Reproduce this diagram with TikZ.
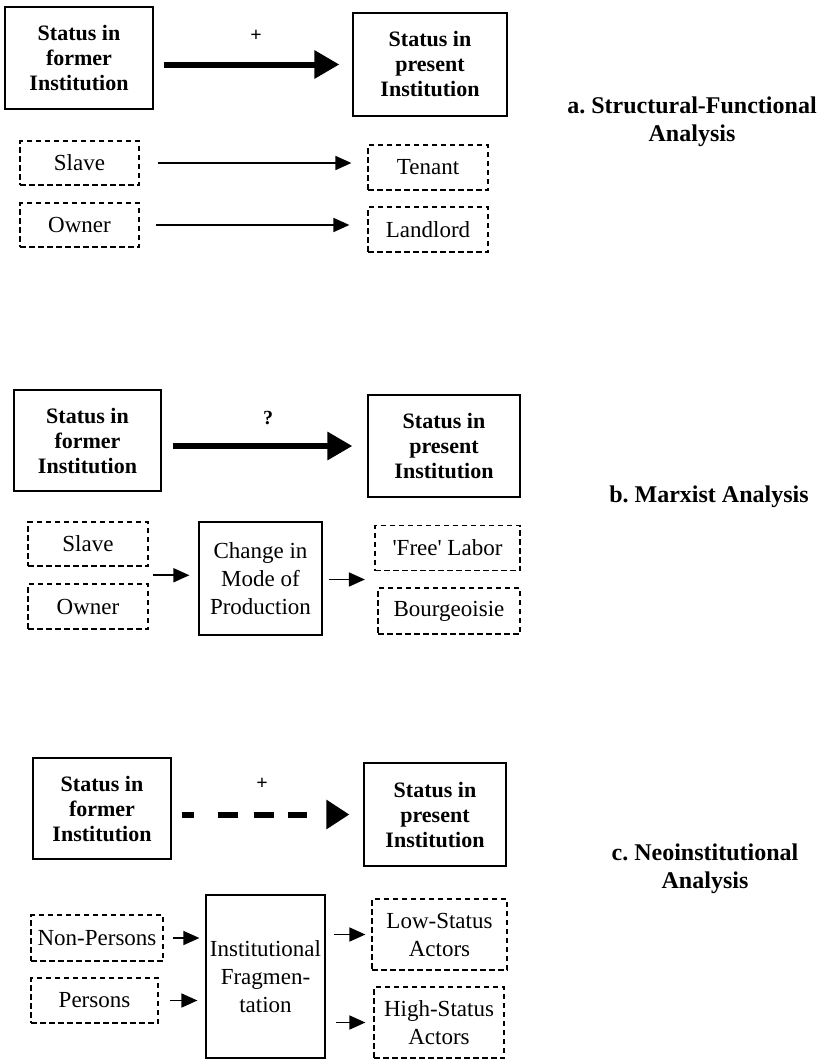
\documentclass[tikz,border=0pt]{standalone}
\usepackage{fontspec}
\setmainfont{Liberation Serif}
\usetikzlibrary{arrows.meta,calc}
\frenchspacing
\begin{document}
\begin{tikzpicture}[x=1pt,y=-1pt,
  solidbox/.style={draw, line width=1.2pt, inner sep=0pt, align=center},
  dashbox/.style={draw, line width=1.2pt, dash pattern=on 5.5pt off 3.5pt, inner sep=0pt, align=center},
  boldtxt/.style={font=\fontsize{22}{25}\selectfont\bfseries},
  regtxt/.style={font=\fontsize{23}{28}\selectfont},
  labeltxt/.style={font=\fontsize{24}{28}\selectfont\bfseries, align=center},
  signtxt/.style={font=\fontsize{20}{22}\selectfont\bfseries},
  bigarrow/.style={line width=6pt, -{Triangle[length=25pt,width=27pt]}},
  thinarrow/.style={line width=1.7pt, -{Triangle[length=16pt,width=14pt]}}
]
\useasboundingbox (0,0) rectangle (822,1060);

% ---------- a. Structural-Functional ----------
\node[solidbox, boldtxt, minimum width=148pt, minimum height=102pt] (A1) at (79,58) {Status in\\former\\Institution};
\node[solidbox, boldtxt, minimum width=154pt, minimum height=103pt] (A2) at (430,64.5) {Status in\\present\\Institution};
\draw[bigarrow, shorten <=10pt, shorten >=13pt] (A1.east |- A2.west) -- (A2.west);
\node[signtxt] (Aplus) at (256,36) {+};

\node[dashbox, regtxt, minimum width=119pt, minimum height=44pt] (Aslave) at (79.5,163) {Slave};
\node[dashbox, regtxt, minimum width=120pt, minimum height=45pt] (Atenant) at (428,167.5) {Tenant};
\node[dashbox, regtxt, minimum width=119pt, minimum height=44pt] (Aowner) at (79.5,225) {Owner};
\node[dashbox, regtxt, minimum width=120pt, minimum height=45pt] (Alandlord) at (428,229.5) {Landlord};
\draw[thinarrow, shorten <=18pt, shorten >=16pt] (Aslave.east) -- (Aslave.east -| Atenant.west);
\draw[thinarrow, shorten <=16pt, shorten >=18pt] (Aowner.east) -- (Aowner.east -| Alandlord.west);

\node[labeltxt] (Alabel) at (692,122) {a. Structural-Functional\\Analysis};

% ---------- b. Marxist ----------
\node[solidbox, boldtxt, minimum width=147pt, minimum height=101pt] (B1) at (87.5,440.5) {Status in\\former\\Institution};
\node[solidbox, boldtxt, minimum width=152pt, minimum height=102pt] (B2) at (444,446) {Status in\\present\\Institution};
\draw[bigarrow, shorten <=11pt, shorten >=15pt] (B1.east |- B2.west) -- (B2.west);
\node[signtxt] (Bq) at (268,418) {?};

\node[dashbox, regtxt, minimum width=120pt, minimum height=44pt] (Bslave) at (88,544) {Slave};
\node[dashbox, regtxt, minimum width=120pt, minimum height=45pt] (Bowner) at (88,606.5) {Owner};
\node[solidbox, regtxt, minimum width=123pt, minimum height=113pt] (Bchange) at (260.5,578.5) {Change in\\Mode of\\Production};
\node[dashbox, regtxt, minimum width=145pt, minimum height=45pt] (Bfree) at (447.5,548) {\textquotesingle Free\textquotesingle{} Labor};
\node[dashbox, regtxt, minimum width=142pt, minimum height=46pt] (Bbourg) at (449,611) {Bourgeoisie};
\coordinate (Bin) at ($(Bslave.east)!0.5!(Bowner.east)$);
\coordinate (Bout) at ($(Bfree.west)!0.5!(Bbourg.west)$);
\draw[thinarrow, shorten <=4pt, shorten >=9pt] (Bin) -- (Bin -| Bchange.west);
\draw[thinarrow, shorten <=6pt, shorten >=11pt] (Bout -| Bchange.east) -- (Bout);

\node[labeltxt, anchor=base] (Blabel) at (709,502) {b. Marxist Analysis};

% ---------- c. Neoinstitutional ----------
\node[solidbox, boldtxt, minimum width=138pt, minimum height=101pt] (C1) at (102,808.5) {Status in\\former\\Institution};
\node[solidbox, boldtxt, minimum width=142pt, minimum height=103pt] (C2) at (435,814.5) {Status in\\present\\Institution};
\draw[line width=6pt, dash pattern=on 12pt off 24pt on 20pt off 16pt on 20pt off 14pt on 19pt off 21pt,
      -{Triangle[length=23pt,width=28pt]}, shorten <=10pt, shorten >=14pt] (C1.east |- C2.west) -- (C2.west);
\node[signtxt] (Cplus) at (262,784) {+};

\node[dashbox, regtxt, minimum width=132pt, minimum height=46pt] (Cnon) at (97,938) {Non-Persons};
\node[dashbox, regtxt, minimum width=127pt, minimum height=45pt] (Cpers) at (94.5,1000.5) {Persons};
\node[solidbox, regtxt, minimum width=119pt, minimum height=163pt] (Cfrag) at (265.5,976.5) {Institutional\\Fragmen-\\tation};
\node[dashbox, regtxt, minimum width=135pt, minimum height=71pt] (Clow) at (439.5,934.5) {Low-Status\\Actors};
\node[dashbox, regtxt, minimum width=130pt, minimum height=71pt] (Chigh) at (439,1022.5) {High-Status\\Actors};
\draw[thinarrow, shorten <=9pt, shorten >=6pt] (Cnon.east) -- (Cnon.east -| Cfrag.west);
\draw[thinarrow, shorten <=11pt, shorten >=8pt] (Cpers.east) -- (Cpers.east -| Cfrag.west);
\draw[thinarrow, shorten <=8pt, shorten >=6pt] (Clow.west -| Cfrag.east) -- (Clow.west);
\draw[thinarrow, shorten <=10pt, shorten >=8pt] (Chigh.west -| Cfrag.east) -- (Chigh.west);

\node[labeltxt] (Clabel) at (705,869) {c. Neoinstitutional\\Analysis};
\end{tikzpicture}
\end{document}
